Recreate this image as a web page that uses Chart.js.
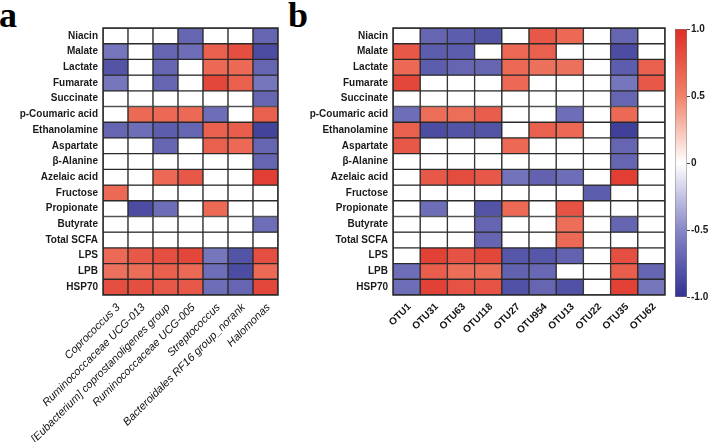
<!DOCTYPE html>
<html>
<head>
<meta charset="utf-8">
<script src="https://cdn.jsdelivr.net/npm/chart.js@4/dist/chart.umd.min.js"></script>
<style>
  html, body { margin: 0; padding: 0; background: #fff; overflow: hidden; }
  body { width: 709px; height: 442px; position: relative; }
  canvas { position: absolute; }
  .panel { position: absolute; font-family: 'Liberation Serif', 'Times New Roman', serif; font-weight: bold; font-size: 36px; line-height: 36px; color: #000; }
</style>
</head>
<body>
<div class="panel" style="left:-1px; top:-3px;">a</div>
<div class="panel" style="left:288px; top:-3px;">b</div>
<canvas id="chartA" width="290" height="442" style="left:0; top:0;"></canvas>
<canvas id="chartB" width="380" height="442" style="left:290px; top:0;"></canvas>
<canvas id="chartC" width="44" height="442" style="left:665px; top:0;"></canvas>
<script>
// ---------------- data ----------------
const metabolites = ['Niacin','Malate','Lactate','Fumarate','Succinate','p-Coumaric acid','Ethanolamine','Aspartate','β-Alanine','Azelaic acid','Fructose','Propionate','Butyrate','Total SCFA','LPS','LPB','HSP70'];

const taxaA = ['Coprococcus 3','Ruminococcaceae UCG-013','[Eubacterium] coprostanoligenes group','Ruminococcaceae UCG-005','Streptococcus','Bacteroidales RF16 group_norank','Halomonas'];

const otusB = ['OTU1','OTU31','OTU63','OTU118','OTU27','OTU954','OTU13','OTU22','OTU35','OTU62'];

// correlation values, one row per metabolite (panel a)
const valuesA = [
  [0, 0, 0, -0.7, 0, 0, -0.7],
  [-0.6, 0, -0.7, -0.65, 0.7, 0.8, -0.85],
  [-0.8, 0, -0.7, 0, 0.65, 0.65, -0.7],
  [-0.6, 0, -0.7, 0, 0.85, 0.7, -0.6],
  [0, 0, 0, 0, 0, 0, -0.7],
  [0, 0.65, 0.65, 0.65, -0.65, 0, 0.7],
  [-0.7, -0.65, -0.75, -0.7, 0.7, 0.72, -0.9],
  [0, 0, -0.7, 0, 0.7, 0.65, -0.7],
  [0, 0, 0, 0, 0, 0, -0.7],
  [0, 0, 0.65, 0.75, 0, 0, 0.9],
  [0.65, 0, 0, 0, 0, 0, 0],
  [0, -0.85, -0.65, 0, 0.65, 0, 0],
  [0, 0, 0, 0, 0, 0, -0.65],
  [0, 0, 0, 0, 0, 0, 0],
  [0.65, 0.75, 0.8, 0.85, -0.6, -0.8, 0.8],
  [0.6, 0.62, 0.7, 0.65, -0.65, -0.85, 0.65],
  [0.8, 0.8, 0.75, 0.75, -0.65, -0.7, 0.85]
];

// correlation values, one row per metabolite (panel b)
const valuesB = [
  [0, -0.7, -0.75, -0.8, 0, 0.75, 0.65, 0, -0.7, 0],
  [0.75, -0.75, -0.75, 0, 0.65, 0.7, 0, 0, -0.85, 0],
  [0.65, -0.75, -0.7, -0.7, 0.65, 0.6, 0.6, 0, -0.75, 0.7],
  [0.85, 0, 0, 0, 0.65, 0, 0, 0, -0.6, 0.75],
  [0, 0, 0, 0, 0, 0, 0, 0, -0.7, 0],
  [-0.65, 0.62, 0.62, 0.72, 0, 0, -0.65, 0, 0.65, 0],
  [0.7, -0.85, -0.8, -0.8, 0, 0.7, 0.65, 0, -0.92, 0],
  [0.75, 0, 0, 0, 0.65, 0, 0, 0, -0.7, 0],
  [0, 0, 0, 0, 0, 0, 0, 0, -0.7, 0],
  [0, 0.75, 0.82, 0.75, -0.62, -0.72, -0.65, 0, 0.9, 0],
  [0, 0, 0, 0, 0, 0, 0, -0.75, 0, 0],
  [0, -0.65, 0, -0.8, 0.65, 0, 0.78, 0, 0, 0],
  [0, 0, 0, -0.7, 0, 0, 0.62, 0, -0.7, 0],
  [0, 0, 0, -0.7, 0, 0, 0.65, 0, 0, 0],
  [0, 0.88, 0.78, 0.85, -0.78, -0.78, -0.72, 0, 0.8, 0],
  [-0.65, 0.72, 0.62, 0.62, -0.72, -0.68, 0, 0, 0.72, -0.7],
  [-0.65, 0.88, 0.78, 0.78, -0.82, -0.7, -0.82, 0, 0.88, -0.6]
];

// colour bar
const colorbarRange = [-1, 1];
const colorbarTicks = [-1, -0.5, 0, 0.5, 1];
const colorbarTickLabels = ['-1.0', '-0.5', '0', '0.5', '1.0'];

// ---------------- styling ----------------
const FONT = "'Liberation Sans', Arial, Helvetica, sans-serif";
Chart.defaults.font.family = FONT;
Chart.defaults.color = '#1a1a1a';

const colorStops = [
  [-1, [50, 50, 145]],
  [-0.5, [135, 135, 200]],
  [0, [255, 255, 255]],
  [0.5, [240, 130, 105]],
  [1, [222, 45, 38]]
];
function colorFor(v) {
  if (v <= colorStops[0][0]) return 'rgb(' + colorStops[0][1].join(',') + ')';
  for (let i = 1; i < colorStops.length; i++) {
    const [v1, c1] = colorStops[i];
    const [v0, c0] = colorStops[i - 1];
    if (v <= v1) {
      const t = (v - v0) / (v1 - v0);
      const c = c0.map((x, k) => Math.round(x + (c1[k] - x) * t));
      return 'rgb(' + c.join(',') + ')';
    }
  }
  return 'rgb(' + colorStops[colorStops.length - 1][1].join(',') + ')';
}

const framePlugin = {
  id: 'frame',
  afterDatasetsDraw(chart) {
    const { ctx, chartArea: a } = chart;
    ctx.save();
    ctx.strokeStyle = '#2a2a2a';
    ctx.lineWidth = 1.5;
    ctx.strokeRect(a.left, a.top, a.right - a.left, a.bottom - a.top);
    ctx.restore();
  }
};

function heatmap(canvasId, columns, values, opts) {
  const datasets = values.map((row, r) => ({
    data: row.map(() => [r, r + 1]),
    backgroundColor: row.map(colorFor),
    borderColor: '#2a2a2a',
    borderWidth: 1,
    borderSkipped: false,
    grouped: false,
    barPercentage: 1,
    categoryPercentage: 1
  }));
  return new Chart(document.getElementById(canvasId), {
    type: 'bar',
    data: { labels: columns, datasets },
    options: {
      responsive: false,
      animation: false,
      devicePixelRatio: 1,
      layout: { padding: { left: 0, top: 28, right: opts.padRight, bottom: 0 } },
      plugins: { legend: { display: false }, tooltip: { enabled: false } },
      scales: {
        x: {
          type: 'category',
          offset: true,
          grid: { display: false, drawTicks: false },
          border: { display: false },
          ticks: {
            autoSkip: false,
            minRotation: 45,
            maxRotation: 45,
            padding: opts.xPad,
            labelOffset: opts.xLabelOffset,
            color: '#111',
            font: opts.xFont
          },
          afterFit(axis) { axis.height = 147; }
        },
        y: {
          type: 'linear',
          min: 0,
          max: metabolites.length,
          reverse: true,
          grid: { display: false, drawTicks: false },
          border: { display: false },
          afterBuildTicks(axis) {
            axis.ticks = metabolites.map((_, i) => ({ value: i + 0.5 }));
          },
          ticks: {
            autoSkip: false,
            padding: 5,
            color: '#1a1a1a',
            font: { size: 10, weight: 'bold' },
            callback: (value, index) => metabolites[index]
          },
          afterFit(axis) { axis.width = opts.yWidth; }
        }
      }
    },
    plugins: [framePlugin]
  });
}

heatmap('chartA', taxaA, valuesA, {
  padRight: 12, yWidth: 103, xPad: 6, xLabelOffset: 3,
  xFont: { size: 11, style: 'italic' }
});
heatmap('chartB', otusB, valuesB, {
  padRight: 5, yWidth: 103, xPad: 6, xLabelOffset: 3,
  xFont: { size: 10, weight: 'bold' }
});

// ---------------- colour bar ----------------
new Chart(document.getElementById('chartC'), {
  type: 'bar',
  data: {
    labels: [''],
    datasets: [{
      data: [colorbarRange],
      backgroundColor(ctx) {
        const chart = ctx.chart;
        const a = chart.chartArea;
        if (!a) return '#fff';
        const ys = chart.scales.y;
        const g = chart.ctx.createLinearGradient(0, ys.getPixelForValue(colorbarRange[0]), 0, ys.getPixelForValue(colorbarRange[1]));
        colorStops.forEach(([v, c]) => {
          g.addColorStop((v - colorbarRange[0]) / (colorbarRange[1] - colorbarRange[0]), 'rgb(' + c.join(',') + ')');
        });
        return g;
      },
      borderColor: 'rgba(70,70,70,0.7)',
      borderWidth: 0.8,
      borderSkipped: false,
      barPercentage: 1,
      categoryPercentage: 1
    }]
  },
  options: {
    responsive: false,
    animation: false,
    devicePixelRatio: 1,
    layout: { padding: { left: 10, top: 29, right: 0, bottom: 145 } },
    plugins: { legend: { display: false }, tooltip: { enabled: false } },
    scales: {
      x: { display: false },
      y: {
        type: 'linear',
        position: 'right',
        min: colorbarRange[0],
        max: colorbarRange[1],
        grid: { display: true, drawOnChartArea: false, drawTicks: true, tickLength: 3, color: '#444', lineWidth: 1 },
        border: { display: false },
        afterBuildTicks(axis) {
          axis.ticks = colorbarTicks.map(v => ({ value: v }));
        },
        ticks: {
          autoSkip: false,
          padding: 1,
          color: '#1a1a1a',
          font: { size: 10, weight: 'bold' },
          callback: (value, index) => colorbarTickLabels[index]
        },
        afterFit(axis) { axis.width = 22; }
      }
    }
  }
});
</script>
</body>
</html>
